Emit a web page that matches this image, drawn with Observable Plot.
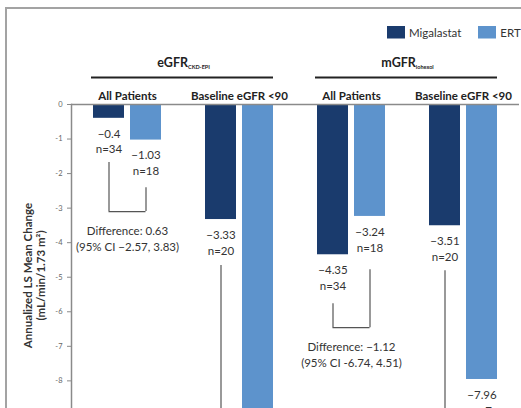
<!DOCTYPE html>
<html><head><meta charset="utf-8">
<script src="https://cdn.jsdelivr.net/npm/d3@7"></script>
<script src="https://cdn.jsdelivr.net/npm/@observablehq/plot@0.6"></script>
<style>
html,body{margin:0;padding:0;background:#fff;overflow:hidden;}
#wrap{position:relative;width:521px;height:408px;overflow:hidden;background:#fff;}
#border{position:absolute;left:5px;top:7px;width:700px;height:700px;border-left:2px solid #a3a3a3;border-top:2px solid #a3a3a3;pointer-events:none;}
#chart{position:absolute;left:0;top:0;}
#legend{position:absolute;left:387px;top:26px;width:220px;white-space:nowrap;font-family:Lato,sans-serif;font-size:11.5px;color:#333;}
#legend > div{min-height:0 !important;margin:0 !important;flex-wrap:nowrap !important;}
#legend span{margin-right:17px !important;}
#legend span > svg{margin-right:4px !important;}
</style></head><body>
<div id="wrap"><div id="chart"></div><div id="legend"></div><div id="border"></div></div>
<script>
// ---- data ----
const groups = ["eGFR All", "eGFR <90", "mGFR All", "mGFR <90"];
const subgroupLabels = ["All Patients", "Baseline eGFR <90", "All Patients", "Baseline eGFR <90"];
const series = ["Migalastat", "ERT"];
const migalastat = [-0.4, -3.33, -4.35, -3.51];
const ert = [-1.03, -9.03, -3.24, -7.96];
const migN = [34, 20, 34, 20];
const ertN = [18, 7, 18, 7];
const yTicks = [0, -1, -2, -3, -4, -5, -6, -7, -8];
const yMin = -8.8;
const superHeaders = [
  {group: "eGFR All", label: "eGFR", sub: "CKD-EPI"},
  {group: "mGFR All", label: "mGFR", sub: "iohexol"}
];
const diffLabels = ["Difference: 0.63\n(95% CI \u22122.57, 3.83)", null, "Difference: \u22121.12\n(95% CI -6.74, 4.51)", null];
const bracketLevel = [-3.10, -11, -6.46, -11];
const migLegTop = [-1.68, -4.66, -5.77, -4.81];
const ertLegTop = [-2.41, null, -4.78, null];

const navy = "#1a3b6d";
const light = "#5d93cc";
const fmt = v => (v < 0 ? "\u2212" : "") + Math.abs(v);

const bars = [];
groups.forEach((g, i) => {
  bars.push({group: g, series: "Migalastat", value: migalastat[i], n: migN[i]});
  bars.push({group: g, series: "ERT", value: ert[i], n: ertN[i]});
});
const legs = [];
groups.forEach((g, i) => {
  legs.push({group: g, series: "Migalastat", top: migLegTop[i], level: bracketLevel[i]});
  if (ertLegTop[i] != null) legs.push({group: g, series: "ERT", top: ertLegTop[i], level: bracketLevel[i]});
});
const diffs = groups.map((g, i) => ({group: g, level: bracketLevel[i], label: diffLabels[i]})).filter(d => d.label);
const subs = groups.map((g, i) => ({group: g, label: subgroupLabels[i]}));

const plot = Plot.plot({
  width: 521, height: 408,
  marginLeft: 71, marginRight: 2, marginTop: 104, marginBottom: 0,
  style: {fontFamily: "Lato, sans-serif", background: "transparent", color: "#333", overflow: "visible"},
  fx: {domain: groups, padding: 0, axis: null},
  x: {domain: series, paddingInner: 0.16, paddingOuter: 0.59, axis: null},
  y: {domain: [yMin, 0], axis: null},
  color: {domain: series, range: [navy, light]},
  marks: [
    Plot.barY(bars, {fx: "group", x: "series", y: "value", fill: "series"}),
    Plot.ruleY([0], {stroke: "#8a8a8a", strokeWidth: 1.5}),
    Plot.frame({anchor: "left", facetAnchor: "left", stroke: "#8a8a8a", strokeWidth: 1.5}),
    Plot.axisY({ticks: yTicks, tickSize: 4, tickPadding: 5, fontSize: 7.5, stroke: "#8a8a8a", fill: "#666", tickFormat: d => d === 0 ? "0" : "-" + Math.abs(d)}),
    Plot.text(bars.filter(d => d.value > yMin), {fx: "group", x: "series", y: "value", text: d => fmt(d.value) + "\nn=" + d.n, lineAnchor: "top", dy: 8, fontSize: 11.5, lineHeight: 1.38, fill: "#333"}),
    Plot.ruleX(legs, {fx: "group", x: "series", y1: "top", y2: "level", stroke: "#555", strokeWidth: 1.2}),
    Plot.ruleY(diffs, {fx: "group", y: "level", x1: () => "Migalastat", x2: () => "ERT", insetLeft: 15.5, insetRight: 15.5, stroke: "#555", strokeWidth: 1.2}),
    Plot.text(diffs, {fx: "group", y: "level", text: "label", lineAnchor: "top", dy: 12, fontSize: 11.5, lineHeight: 1.38, fill: "#333"}),
    Plot.text(subs, {fx: "group", text: "label", frameAnchor: "top", dy: -13, fontSize: 11.5, fontWeight: "bold", fill: "#222"}),
    Plot.ruleY(groups.filter((g, i) => i % 2 === 0), {fx: d => d, y: () => 0, dy: -27, insetLeft: 20, stroke: "#222", strokeWidth: 1.8}),
    Plot.ruleY(groups.filter((g, i) => i % 2 === 1), {fx: d => d, y: () => 0, dy: -27, insetRight: 22, stroke: "#222", strokeWidth: 1.8}),
    Plot.text(superHeaders, {fx: "group", text: d => d.label + "_" + d.sub, frameAnchor: "top-right", textAnchor: "middle", dy: -46, fontSize: 12.5, fontWeight: "bold", fill: "#222"}),
    Plot.text([{group: groups[0]}], {fx: "group", text: () => "Annualized LS Mean Change\n(mL/min/1.73 m\u00b2)", frameAnchor: "bottom-left", textAnchor: "middle", lineAnchor: "middle", rotate: -90, dx: -37, dy: -133, fontSize: 11.5, lineHeight: 1.15, fontWeight: "bold", fill: "#333"})
  ]
});

d3.select(plot).selectAll("text").each(function() {
  const t = this.textContent;
  if (t.includes("_") && !this.querySelector("tspan")) {
    const [a, b] = t.split("_");
    const sel = d3.select(this);
    sel.text(null);
    sel.append("tspan").text(a);
    sel.append("tspan").attr("font-size", 5.5).attr("dy", 2).attr("font-weight", "bold").text(b);
  }
});

document.getElementById("chart").append(plot);

const legend = Plot.legend({color: {domain: series, range: [navy, light]}, swatchWidth: 18, swatchHeight: 12.5, style: {fontFamily: "Lato, sans-serif", fontSize: "11.5px", color: "#333"}});
document.getElementById("legend").append(legend);
</script>
</body></html>
